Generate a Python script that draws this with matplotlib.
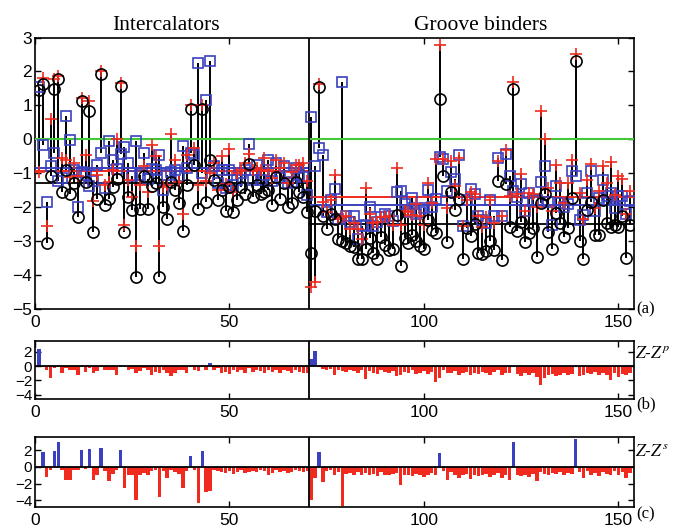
import numpy as np
import matplotlib
matplotlib.use("Agg")
import matplotlib.pyplot as plt

# Z values (black circles), index 1..153
z_intercalators = [1.45, 1.62, -3.05, -1.09, 1.49, 1.78, -1.55, -0.90, -1.62, -1.30,
                   -2.28, 1.13, -1.25, 0.83, -2.72, -1.76, 1.91, -1.94, -1.76, -1.40,
                   -1.18, 1.57, -2.72, -1.70, -2.09, -4.05, -2.06, -1.09, -2.06, -1.38,
                   -1.30, -4.05, -2.00, -2.35, -1.25, -1.50, -1.87, -2.70, -1.35, 0.90,
                   -0.76, -2.05, 0.90, -1.84, -0.60, -1.20, -1.79, -1.50, -2.12, -1.40,
                   -2.14, -1.79, -1.40, -1.60, -0.74, -1.70, -1.35, -1.60, -1.55, -1.50,
                   -1.94, -1.11, -1.75, -1.30, -2.00, -1.87, -1.25, -1.55, -1.70, -2.14]
z_groove = [-3.34, -2.10, 1.54, -2.26, -2.63, -2.20, -2.36, -2.95, -3.00, -3.05,
            -3.13, -3.17, -3.54, -3.54, -3.22, -2.90, -3.36, -3.54, -2.89, -3.10,
            -3.26, -3.22, -2.24, -3.73, -2.90, -3.05, -2.82, -3.00, -3.15, -3.22,
            -2.38, -2.68, -2.77, 1.18, -1.09, -3.02, -1.55, -2.07, -1.75, -3.54,
            -2.60, -2.85, -2.50, -3.36, -3.38, -3.28, -3.00, -3.26, -1.24, -3.56,
            -1.32, -2.58, 1.49, -2.70, -2.43, -3.02, -2.77, -2.60, -3.48, -1.87,
            -1.60, -2.74, -3.22, -2.17, -2.48, -2.89, -2.60, -1.72, 2.32, -2.99,
            -3.54, -2.09, -1.84, -2.82, -2.82, -1.79, -2.48, -2.58, -2.53, -2.58,
            -2.26, -3.51, -2.53]

# Z - Z^p  (panel b)
dp_intercalators = [2.4, -0.2, -0.5, -1.7, -0.3, -0.1, -1.0, -0.3, -0.5, -0.6,
                    -1.2, -0.1, -0.8, -0.3, -0.9, -0.7, -0.1, -0.6, -0.5, -0.5,
                    -1.2, -0.1, -0.2, -0.5, -0.4, -0.9, -0.7, -0.3, -0.5, -1.2,
                    -0.8, -0.9, -0.6, -1.0, -1.4, -0.9, -0.6, -0.5, -0.9, -0.1,
                    -0.5, -0.7, -0.1, -0.6, 0.4, -0.5, -0.3, -1.0, -0.8, -1.1,
                    -0.6, -0.8, -0.5, -0.9, -0.3, -0.8, -0.5, -0.7, -1.0, -0.6,
                    -0.8, -0.5, -0.9, -0.6, -0.7, -0.9, -0.5, -0.8, -1.0, -0.9]
dp_groove = [1.0, 2.1, -0.1, -0.4, -0.5, -0.4, -1.3, -0.6, -0.7, -0.8,
             -0.5, -0.7, -0.9, -0.6, -1.8, -0.7, -0.9, -1.1, -0.6, -0.8,
             -1.0, -0.7, -1.4, -1.2, -0.8, -0.9, -0.6, -1.1, -0.9, -0.7,
             -1.1, -0.8, -2.2, -1.6, -0.5, -1.0, -0.9, -0.7, -1.2, -1.0,
             -0.8, -1.3, -0.9, -1.1, -0.8, -1.0, -1.2, -0.8, -0.6, -1.3,
             -1.0, -0.9, -0.2, -1.1, -1.4, -0.9, -1.2, -1.0, -1.5, -2.7,
             -1.6, -1.3, -1.1, -1.4, -1.2, -1.0, -1.3, -1.1, -0.2, -1.4,
             -1.2, -0.9, -1.1, -0.8, -1.3, -1.0, -1.2, -1.9, -0.9, -1.5,
             -1.1, -1.3, -1.0]

# Z - Z^s  (panel c)
ds_intercalators = [-0.1, 1.8, -1.2, -0.3, 1.9, 3.0, -0.4, -1.6, -1.6, -0.4,
                    -0.3, 2.1, -0.2, 2.2, -1.5, -1.0, 2.3, -0.5, -1.7, -0.8,
                    -0.3, 2.0, -2.5, -1.0, -1.0, -4.0, -1.0, -0.7, -0.9, -0.5,
                    -0.4, -3.6, -0.5, -1.3, -0.3, -0.6, -0.8, -2.5, -0.5, 1.3,
                    -0.3, -4.3, 1.9, -3.0, -2.9, -0.4, -0.5, -0.6, -0.7, -0.5,
                    -0.8, -0.6, -0.4, -0.7, -0.6, -0.5, -0.6, -0.4, -0.5, -0.9,
                    -0.7, -0.4, -0.6, -0.5, -0.7, -0.6, -0.4, -0.5, -0.6, -0.5]
ds_groove = [-4.0, -1.3, 1.8, -1.8, -0.5, -0.4, -0.9, -0.6, -4.7, -0.8,
             -0.7, -0.9, -0.6, -1.0, -0.7, -0.9, -0.8, -1.1, -0.6, -0.9,
             -1.0, -0.8, -0.7, -2.2, -1.0, -0.9, -1.1, -0.8, -1.0, -1.2,
             -0.9, -0.7, -1.0, 1.7, -0.5, -1.5, -0.6, -0.9, -1.3, -1.0,
             -0.8, -1.4, -0.9, -1.1, -1.0, -0.8, -1.2, -1.0, -0.7, -1.3,
             -0.9, -1.5, 3.0, -1.0, -1.1, -0.9, -1.2, -0.8, -1.7, -0.6,
             -0.8, -0.9, -0.7, -0.8, -0.6, -0.9, -0.7, -0.8, 3.4, -0.6,
             -1.3, -0.5, -0.9, -0.7, -1.1, -0.6, -0.8, -1.0, -0.5, -0.9,
             -0.6, -1.3, -0.7]

# mean levels drawn as horizontal lines (black, red, blue) per group
mean_z = [-1.30, -2.50]
mean_zp = [-0.93, -1.70]
mean_zs = [-0.86, -1.94]

group_titles = ["Intercalators", "Groove binders"]

z = np.array(z_intercalators + z_groove)
dp = np.array(dp_intercalators + dp_groove)
ds = np.array(ds_intercalators + ds_groove)
zp = z - dp
zs = z - ds
n_left = len(z_intercalators)
x = np.arange(1, len(z) + 1)
split = n_left + 0.5
xmax = 154

C_RED = "#f02a1e"
C_BLUE = "#3b40c0"
C_GREEN = "#44c837"

plt.rcParams["font.family"] = ["Liberation Sans", "DejaVu Sans"]
plt.rcParams["font.size"] = 12.5
plt.rcParams["mathtext.fontset"] = "stix"

fig = plt.figure(figsize=(6.73, 5.29), dpi=100)

def frame(ax):
    ax.tick_params(direction="in", top=True, right=True, length=4, width=1, pad=2)
    ax.tick_params(axis="x", pad=4)
    for s in ax.spines.values():
        s.set_linewidth(1.2)
    ax.set_xlim(0, xmax)
    ax.set_xticks([0, 50, 100, 150])
    ax.axvline(split, color="black", lw=1.3, zorder=4)

# ---- panel (a)
ax = fig.add_axes([35 / 673, 1 - 309 / 529, 599 / 673, 271.5 / 529])
frame(ax)
ax.set_ylim(-5, 3)
ax.set_yticks(range(-5, 4))
lo = np.minimum(np.minimum(z, zp), zs)
hi = np.maximum(np.maximum(z, zp), zs)
ax.vlines(x, lo, hi, color="black", lw=1.4, zorder=2)
ax.axhline(0, color=C_GREEN, lw=1.5, zorder=3)
spans = [(0, split), (split, xmax)]
for (a, b), mz, mp, ms in zip(spans, mean_z, mean_zp, mean_zs):
    ax.hlines(mz, a, b, color="black", lw=1.3, zorder=3)
    ax.hlines(mp, a, b, color=C_RED, lw=1.4, zorder=3)
    ax.hlines(ms, a, b, color=C_BLUE, lw=1.4, zorder=3)
ax.plot(x, zs, ls="none", marker="s", ms=6.8, mfc="none", mec=C_BLUE, mew=1.2, zorder=5)
ax.plot(x, zp, ls="none", marker="+", ms=8, mec=C_RED, mew=1.2, zorder=6)
ax.plot(x, z, ls="none", marker="o", ms=8, mfc="none", mec="black", mew=1.2, zorder=7)
ax.text(33.7, 3.08, group_titles[0], ha="center", va="bottom",
        family="Liberation Serif", fontsize=15.5)
ax.text(114.5, 3.08, group_titles[1], ha="center", va="bottom",
        family="Liberation Serif", fontsize=15.5)
ax.text(1.004, 0.0, "(a)", transform=ax.transAxes, ha="left", va="center",
        family="Liberation Serif", fontsize=12)

# ---- panels (b) and (c)
def bar_panel(rect, d, label, tag, ylim):
    bx = fig.add_axes(rect)
    frame(bx)
    bx.set_ylim(*ylim)
    bx.set_yticks([-4, -2, 0, 2])
    bx.tick_params(axis="y", labelsize=11)
    cols = np.where(d > 0, C_BLUE, C_RED)
    bx.bar(x, d, width=0.9, color=cols, zorder=2)
    bx.axhline(0, color="black", lw=1.3, zorder=3)
    bx.text(1.002, 0.8, label, transform=bx.transAxes, ha="left", va="center",
            fontsize=12.5)
    bx.text(1.004, -0.1, tag, transform=bx.transAxes, ha="left", va="center",
            family="Liberation Serif", fontsize=12)
    return bx

bar_panel([35 / 673, 1 - 399 / 529, 599 / 673, 58 / 529], dp, r"$Z$-$Z^p$", "(b)", (-4.6, 3.5))
bar_panel([35 / 673, 1 - 507 / 529, 599 / 673, 70 / 529], ds, r"$Z$-$Z^s$", "(c)", (-4.8, 3.6))

fig.savefig("out.png", dpi=100)
